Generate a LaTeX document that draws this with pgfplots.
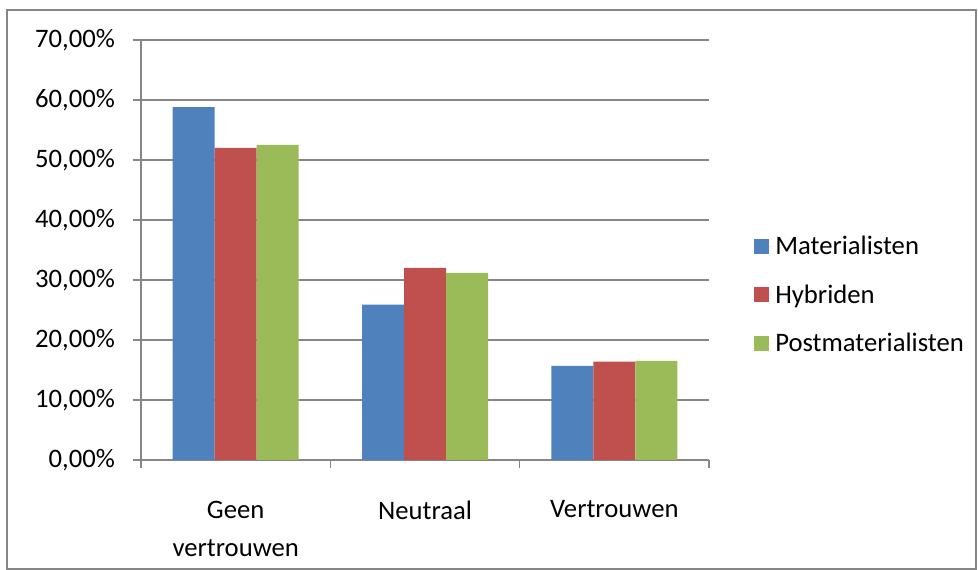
\documentclass[border=0pt]{standalone}
\usepackage{fontspec}
\setmainfont{Carlito}
\usepackage{pgfplots}
\pgfplotsset{compat=1.18}
\definecolor{cblue}{HTML}{4F81BD}
\definecolor{cred}{HTML}{C0504D}
\definecolor{cgreen}{HTML}{9BBB59}
\definecolor{cgrid}{HTML}{868686}
\begin{document}
\begin{tikzpicture}
\useasboundingbox (-105.75pt,-82.5pt) rectangle (627.75pt,345pt);
\draw[cgrid,line width=1pt] (-100.5pt,-81.75pt) rectangle (626.25pt,337.5pt);
\begin{axis}[
  at={(0,0)}, anchor=south west,
  scale only axis, width=426pt, height=315pt,
  xmin=-0.5, xmax=2.5, ymin=0, ymax=70,
  ybar=0pt, bar width=31.5pt,
  axis x line=bottom, axis y line=left,
  axis line style={-, cgrid, line width=1.2pt},
  ytick={0,10,...,70},
  yticklabels={{0,00\%},{10,00\%},{20,00\%},{30,00\%},{40,00\%},{50,00\%},{60,00\%},{70,00\%}},
  ymajorgrids, grid style={cgrid, line width=1.2pt},
  tick style={cgrid, line width=1.2pt},
  tick align=outside, major tick length=6pt,
  xtick={-0.5,0.5,1.5,2.5}, xticklabels={},
  extra x ticks={0,1,2},
  extra x tick labels={{Geen\\vertrouwen},Neutraal,Vertrouwen},
  extra x tick style={major tick length=0pt, grid=none,
     xticklabel style={align=center, yshift=-27pt}},
  ticklabel style={font=\fontsize{20}{29}\selectfont, text=black},
  yticklabel style={xshift=-10pt},
  legend style={draw=none, fill=none, at={(1,0.393)}, anchor=west,
     xshift=33.5pt, inner sep=0pt, row sep=17pt,
     font=\fontsize{20}{24}\selectfont},
  legend cell align=left,
  legend image code/.code={\fill[#1] (0pt,-5.6pt) rectangle (11.25pt,5.6pt);
     \path (0pt,0pt) -- (14pt,0pt);},
]
\addplot[fill=cblue, draw=none] coordinates {(0,58.8) (1,25.9) (2,15.7)};
\addplot[fill=cred, draw=none] coordinates {(0,52.0) (1,32.0) (2,16.4)};
\addplot[fill=cgreen, draw=none] coordinates {(0,52.5) (1,31.2) (2,16.5)};
\legend{Materialisten,Hybriden,Postmaterialisten}
\end{axis}
\end{tikzpicture}
\end{document}
